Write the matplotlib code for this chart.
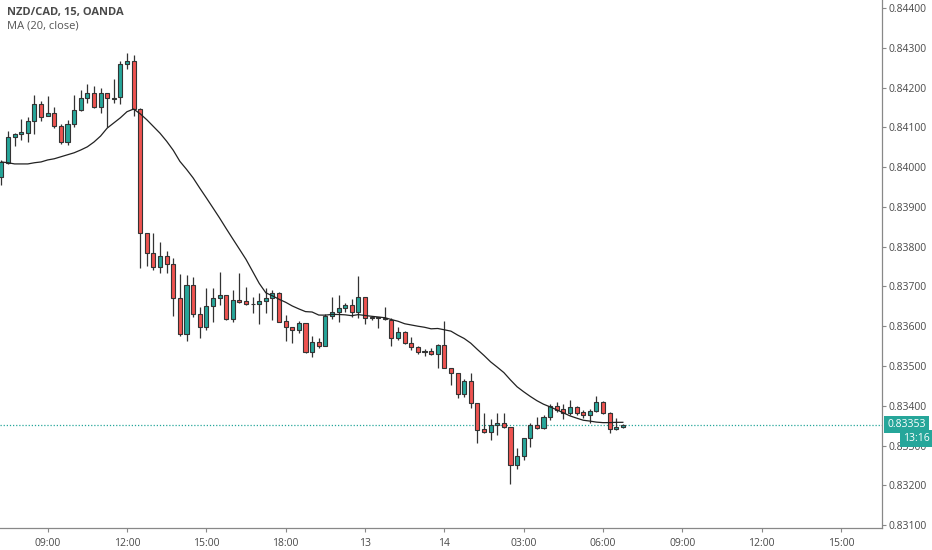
import numpy as np
import pandas as pd
import matplotlib.pyplot as plt
import matplotlib.transforms as mtransforms

# NZD/CAD 15m candles
opens = [0.83975, 0.84011, 0.84076, 0.84083, 0.84086, 0.84116, 0.84159, 0.84129, 0.84136, 0.84103,
         0.84063, 0.84108, 0.84144, 0.84174, 0.84186, 0.84151, 0.84186, 0.84171, 0.84176, 0.84259,
         0.84267, 0.84146, 0.83835, 0.83784, 0.83749, 0.83777, 0.83757, 0.83671, 0.83581, 0.83704,
         0.83631, 0.83598, 0.83651, 0.83671, 0.83679, 0.83619, 0.83666, 0.83664, 0.83656, 0.83656,
         0.83664, 0.83671, 0.83684, 0.83614, 0.83598, 0.83591, 0.83609, 0.83536, 0.83561, 0.83551,
         0.83626, 0.83636, 0.83646, 0.83654, 0.83636, 0.83674, 0.83621, 0.83621, 0.83619, 0.83616,
         0.83571, 0.83586, 0.83559, 0.83549, 0.83536, 0.83539, 0.83531, 0.83553, 0.83495, 0.83483,
         0.83430, 0.83463, 0.83408, 0.83342, 0.83335, 0.83352, 0.83357, 0.83347, 0.83252, 0.83274,
         0.83320, 0.83352, 0.83345, 0.83372, 0.83400, 0.83392, 0.83383, 0.83398, 0.83385, 0.83377,
         0.83387, 0.83410, 0.83382, 0.83342, 0.83348]
highs = [0.84018, 0.84091, 0.84086, 0.84121, 0.84126, 0.84181, 0.84166, 0.84179, 0.84151, 0.84108,
         0.84118, 0.84181, 0.84194, 0.84209, 0.84204, 0.84199, 0.84186, 0.84221, 0.84267, 0.84287,
         0.84282, 0.84149, 0.83835, 0.83835, 0.83812, 0.83789, 0.83772, 0.83732, 0.83729, 0.83724,
         0.83649, 0.83696, 0.83696, 0.83737, 0.83679, 0.83691, 0.83734, 0.83699, 0.83674, 0.83684,
         0.83696, 0.83691, 0.83686, 0.83629, 0.83598, 0.83614, 0.83609, 0.83576, 0.83571, 0.83631,
         0.83674, 0.83679, 0.83659, 0.83669, 0.83727, 0.83674, 0.83626, 0.83624, 0.83649, 0.83621,
         0.83599, 0.83589, 0.83574, 0.83551, 0.83544, 0.83546, 0.83556, 0.83614, 0.83495, 0.83483,
         0.83468, 0.83483, 0.83408, 0.83382, 0.83367, 0.83382, 0.83382, 0.83347, 0.83294, 0.83320,
         0.83357, 0.83372, 0.83377, 0.83405, 0.83410, 0.83405, 0.83415, 0.83400, 0.83390, 0.83392,
         0.83425, 0.83412, 0.83385, 0.83370, 0.83355]
lows = [0.83955, 0.84008, 0.84053, 0.84068, 0.84063, 0.84083, 0.84116, 0.84129, 0.84098, 0.84058,
        0.84055, 0.84101, 0.84141, 0.84161, 0.84148, 0.84136, 0.84101, 0.84161, 0.84159, 0.84247,
        0.84129, 0.83747, 0.83752, 0.83742, 0.83734, 0.83734, 0.83626, 0.83576, 0.83563, 0.83623,
        0.83571, 0.83591, 0.83611, 0.83654, 0.83616, 0.83611, 0.83659, 0.83654, 0.83634, 0.83606,
        0.83634, 0.83616, 0.83611, 0.83563, 0.83558, 0.83583, 0.83533, 0.83523, 0.83546, 0.83551,
        0.83619, 0.83611, 0.83636, 0.83624, 0.83621, 0.83606, 0.83616, 0.83596, 0.83616, 0.83551,
        0.83566, 0.83556, 0.83541, 0.83531, 0.83526, 0.83529, 0.83495, 0.83495, 0.83453, 0.83420,
        0.83423, 0.83395, 0.83307, 0.83332, 0.83315, 0.83327, 0.83345, 0.83204, 0.83242, 0.83264,
        0.83297, 0.83342, 0.83342, 0.83365, 0.83385, 0.83367, 0.83377, 0.83377, 0.83370, 0.83357,
        0.83385, 0.83380, 0.83332, 0.83340, 0.83345]
closes = [0.84013, 0.84076, 0.84083, 0.84088, 0.84116, 0.84159, 0.84126, 0.84136, 0.84103, 0.84063,
          0.84108, 0.84144, 0.84174, 0.84186, 0.84151, 0.84186, 0.84174, 0.84174, 0.84259, 0.84267,
          0.84146, 0.83835, 0.83784, 0.83749, 0.83777, 0.83757, 0.83671, 0.83581, 0.83704, 0.83631,
          0.83598, 0.83651, 0.83671, 0.83679, 0.83619, 0.83666, 0.83661, 0.83656, 0.83656, 0.83664,
          0.83671, 0.83684, 0.83611, 0.83598, 0.83591, 0.83609, 0.83536, 0.83561, 0.83551, 0.83626,
          0.83636, 0.83646, 0.83654, 0.83636, 0.83674, 0.83621, 0.83621, 0.83621, 0.83619, 0.83571,
          0.83586, 0.83559, 0.83549, 0.83536, 0.83538, 0.83531, 0.83553, 0.83495, 0.83483, 0.83430,
          0.83463, 0.83408, 0.83340, 0.83335, 0.83352, 0.83357, 0.83347, 0.83252, 0.83274, 0.83320,
          0.83352, 0.83345, 0.83372, 0.83400, 0.83390, 0.83383, 0.83398, 0.83383, 0.83377, 0.83387,
          0.83410, 0.83382, 0.83342, 0.83348, 0.83353]
# MA(20) for the first bars (earlier closes are off-screen)
ma_head = [0.84013, 0.84011, 0.84008, 0.84008, 0.84008, 0.84011, 0.84013, 0.84018, 0.84021, 0.84026,
           0.84031, 0.84036, 0.84043, 0.84051, 0.84063, 0.84078, 0.84098, 0.84111, 0.84124]

tick_pos = [7, 19, 31, 43, 55, 67, 79, 91, 103, 115, 127]
tick_lbl = ["09:00", "12:00", "15:00", "18:00", "13", "14", "03:00", "06:00", "09:00", "12:00", "15:00"]
y_ticks = [0.831, 0.832, 0.833, 0.834, 0.835, 0.836, 0.837, 0.838, 0.839, 0.840, 0.841, 0.842, 0.843, 0.844]
last_price = 0.83353

up_col = "#26a69a"
dn_col = "#ef5350"
edge = "#333333"

o = np.array(opens); h = np.array(highs); l = np.array(lows); c = np.array(closes)
idx = np.arange(len(c))
ma = pd.Series(c).rolling(20).mean().to_numpy()
ma[:len(ma_head)] = ma_head

plt.rcParams['font.family'] = ['Open Sans', 'DejaVu Sans']
fig = plt.figure(figsize=(9.32, 5.5), dpi=100)
ax = fig.add_axes([0, 22 / 550, 882 / 932, 528 / 550])

# wicks
ax.vlines(idx, l, h, color=edge, linewidth=0.9, zorder=2)
# bodies
colors = [up_col if cc >= oo else dn_col for oo, cc in zip(o, c)]
bottoms = np.minimum(o, c)
heights = np.maximum(np.abs(c - o), 0.000012)
ax.bar(idx, heights, bottom=bottoms, width=0.62, color=colors, edgecolor=edge, linewidth=0.8, zorder=3)

ax.plot(idx, ma, color="#222222", linewidth=0.9, zorder=4)
ax.axhline(last_price, color="#26a69a", linestyle=(0, (1, 1.5)), linewidth=0.9, zorder=1)

ax.set_xlim(-0.21, 133.2)
ax.set_ylim(0.83093, 0.84420)
ax.yaxis.tick_right()
ax.set_yticks(y_ticks)
ax.set_yticklabels([f"{v:.5f}" for v in y_ticks])
ax.set_xticks(tick_pos)
ax.set_xticklabels(tick_lbl)
ax.tick_params(axis='both', colors="#888888", labelcolor="#4a4a4a", labelsize=7.5, length=3, width=0.8)
ax.tick_params(axis='y', pad=2)
ax.tick_params(axis='x', pad=4)
for s in ["top", "left"]:
    ax.spines[s].set_visible(False)
for s in ["right", "bottom"]:
    ax.spines[s].set_color("#888888")
    ax.spines[s].set_linewidth(0.9)

# price and countdown labels on the price scale
trans = mtransforms.blended_transform_factory(ax.transAxes, ax.transData)
ax.annotate("0.83353", xy=(1.0, last_price), xycoords=trans, xytext=(4, 0), textcoords="offset points",
            ha="left", va="center", fontsize=7.5, color="white", annotation_clip=False, zorder=6,
            bbox=dict(boxstyle="square,pad=0.3", facecolor=up_col, edgecolor="none"))
ax.annotate("13:16", xy=(1.0, last_price), xycoords=trans, xytext=(15, -10), textcoords="offset points",
            ha="left", va="center", fontsize=7.5, color="white", annotation_clip=False, zorder=6,
            bbox=dict(boxstyle="square,pad=0.3", facecolor=up_col, edgecolor="none"))

fig.text(7 / 932, 1 - 13 / 550, "NZD/CAD, 15, OANDA", fontsize=8, fontweight="bold", color="#4a4a4a", va="center")
fig.text(7 / 932, 1 - 26 / 550, "MA (20, close)", fontsize=8, color="#555555", va="center")

fig.savefig("out.png", dpi=100, facecolor="white")
